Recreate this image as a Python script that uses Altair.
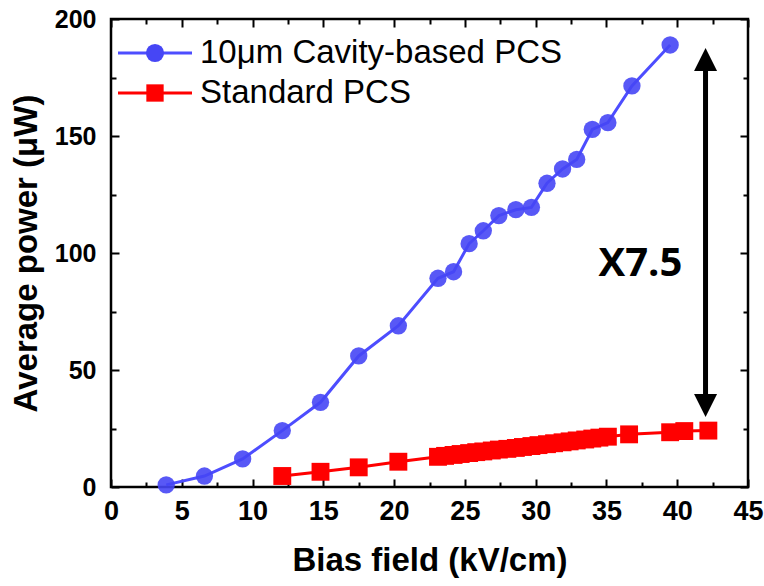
import altair as alt
import pandas as pd

# ---- data ----
series_names = ["10μm Cavity-based PCS", "Standard PCS"]

cav_x = [3.9, 6.6, 9.3, 12.1, 14.8, 17.5, 20.3, 23.1, 24.2, 25.3, 26.3,
         27.4, 28.6, 29.7, 30.8, 31.9, 32.9, 34.0, 35.1, 36.8, 39.5]
cav_y = [0.9, 4.7, 12.0, 24.1, 36.2, 56.0, 68.9, 89.2, 92.0, 104.0, 109.5,
         116.0, 118.5, 119.5, 129.8, 135.9, 140.0, 152.8, 155.7, 171.4, 188.9]

std_x = [12.1, 14.8, 17.5, 20.3, 23.1, 23.6, 24.2, 24.7, 25.3, 25.8, 26.3,
         26.9, 27.4, 28.0, 28.6, 29.1, 29.7, 30.2, 30.8, 31.3, 31.9, 32.4,
         32.9, 33.5, 34.0, 34.5, 35.1, 36.6, 39.5, 40.5, 42.2]
std_y = [4.7, 6.5, 8.4, 10.8, 12.9, 13.3, 13.7, 14.1, 14.5, 14.9, 15.2,
         15.6, 16.0, 16.3, 16.7, 17.1, 17.5, 17.9, 18.3, 18.7, 19.1, 19.5,
         19.9, 20.3, 20.7, 21.1, 21.5, 22.5, 23.4, 23.9, 24.1]

x_ticks = [0, 2.5, 5, 7.5, 10, 12.5, 15, 17.5, 20, 22.5, 25, 27.5, 30,
           32.5, 35, 37.5, 40, 42.5, 45]
y_ticks = [0, 25, 50, 75, 100, 125, 150, 175, 200]

arrow_x = [42.0]
arrow_top = [182.7]
arrow_bottom = [34.8]
note_x = [37.4]
note_y = [95.3]
note_text = ["X7.5"]

# ---- layout ----
W, H = 637, 468
BLUE_LINE = "#4d4dff"
BLUE_FILL = "#4646f5"
RED = "#ff0000"

x_axis = alt.Axis(
    values=x_ticks,
    labelExpr="datum.value % 5 === 0 ? datum.label : ''",
    grid=True, gridColor="black", gridWidth=2, gridOpacity=1,
    gridDash={"condition": {"test": "datum.value % 5 === 0", "value": [8, H - 16, 8, 600]},
              "value": [5, H - 10, 5, 600]},
    ticks=False, tickSize=0, domain=False,
    labelFont="Liberation Sans", labelFontWeight="bold", labelFontSize=27,
    labelColor="black", labelPadding=11, labelFlush=False, labelOverlap=False,
    title="Bias field (kV/cm)", titleFont="Liberation Sans", titleFontSize=33,
    titleFontWeight="bold", titleColor="black", titlePadding=20,
)
y_axis = alt.Axis(
    values=y_ticks,
    labelExpr="datum.value % 50 === 0 ? datum.label : ''",
    grid=True, gridColor="black", gridWidth=2, gridOpacity=1,
    gridDash={"condition": {"test": "datum.value % 50 === 0", "value": [8, W - 16, 8, 900]},
              "value": [5, W - 10, 5, 900]},
    ticks=False, tickSize=0, domain=False,
    labelFont="Liberation Sans", labelFontWeight="bold", labelFontSize=25,
    labelColor="black", labelPadding=15, labelOverlap=False,
    title="Average power (μW)", titleFont="Liberation Sans", titleFontSize=33,
    titleFontWeight="bold", titleColor="black", titlePadding=11,
)
xs = alt.Scale(domain=[0, 45], nice=False, zero=False)
ys = alt.Scale(domain=[0, 200], nice=False, zero=False)


def X(f):
    return alt.X(f"{f}:Q", scale=xs, axis=x_axis)


def Y(f):
    return alt.Y(f"{f}:Q", scale=ys, axis=y_axis)


cav = pd.DataFrame({"x": cav_x, "y": cav_y})
std = pd.DataFrame({"x": std_x, "y": std_y})

std_line = alt.Chart(std).mark_line(color=RED, strokeWidth=3).encode(x=X("x"), y=Y("y"))
std_pts = alt.Chart(std).mark_point(shape="square", filled=True, size=320, color=RED,
                                    opacity=1).encode(x=X("x"), y=Y("y"))
cav_line = alt.Chart(cav).mark_line(color=BLUE_LINE, strokeWidth=3).encode(x=X("x"), y=Y("y"))
cav_pts = alt.Chart(cav).mark_point(shape="circle", filled=True, size=300, color=BLUE_FILL,
                                    opacity=0.9).encode(x=X("x"), y=Y("y"))

arrow = pd.DataFrame({"x": arrow_x, "top": arrow_top, "bot": arrow_bottom})
arrow_rule = alt.Chart(arrow).mark_rule(color="black", strokeWidth=5).encode(
    x=X("x"), y=Y("top"), y2=alt.Y2("bot"))
arrow_up = alt.Chart(arrow).mark_point(shape="M0,-1L1,1L-1,1Z", filled=True, size=529,
                                       color="black", opacity=1).encode(x=X("x"), y=Y("top"))
arrow_dn = alt.Chart(arrow).mark_point(shape="M0,1L1,-1L-1,-1Z", filled=True, size=529,
                                       color="black", opacity=1).encode(x=X("x"), y=Y("bot"))

note = pd.DataFrame({"x": note_x, "y": note_y, "t": note_text})
note_mark = alt.Chart(note).mark_text(font="Open Sans", fontWeight="bold", fontSize=40,
                                      align="center", baseline="middle", color="black").encode(
    x=X("x"), y=Y("y"), text="t:N")

# ---- legend (top-left inside the frame) ----
leg_layers = []
for i, (name, lc, fc, shp, sz) in enumerate([
        (series_names[0], BLUE_LINE, BLUE_FILL, "circle", 330),
        (series_names[1], RED, RED, "square", 300)]):
    ly = 34 + i * 40
    d = pd.DataFrame({"label": [name]})
    leg_layers.append(alt.Chart(d).mark_rule(color=lc, strokeWidth=3).encode(
        x=alt.value(7), x2=alt.value(81), y=alt.value(ly)))
    leg_layers.append(alt.Chart(d).mark_point(shape=shp, filled=True, size=sz, color=fc,
                                              opacity=1).encode(x=alt.value(44), y=alt.value(ly)))
    leg_layers.append(alt.Chart(d).mark_text(font="Liberation Sans", fontSize=33, align="left",
                                             baseline="middle", color="black").encode(
        x=alt.value(89), y=alt.value(ly), text="label:N"))

chart = alt.layer(
    std_line, std_pts, cav_line, cav_pts, arrow_rule, arrow_up, arrow_dn, note_mark, *leg_layers
).properties(
    width=W, height=H,
    autosize=alt.AutoSizeParams(type="none"),
    padding={"left": 111, "top": 19, "right": 16, "bottom": 99},
    background="white",
).configure_view(stroke="black", strokeWidth=2.5)

chart.save("out.html", embed_options={"renderer": "svg", "actions": False})
